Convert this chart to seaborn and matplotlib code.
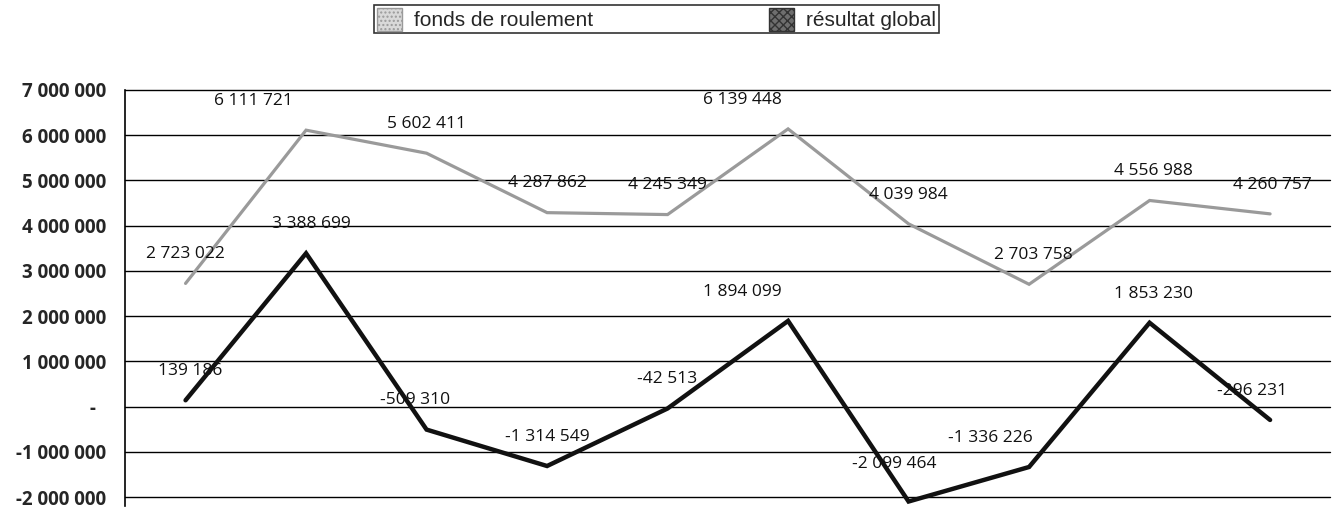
import matplotlib
matplotlib.use("Agg")
import matplotlib.pyplot as plt
from matplotlib.patches import Patch
from matplotlib.ticker import FuncFormatter, MultipleLocator
import numpy as np
import pandas as pd
import seaborn as sns

# Data
periods = list(range(10))
fonds_de_roulement = [2723022, 6111721, 5602411, 4287862, 4245349,
                      6139448, 4039984, 2703758, 4556988, 4260757]
resultat_global = [139186, 3388699, -509310, -1314549, -42513,
                   1894099, -2099464, -1336226, 1853230, -296231]
series_names = ["fonds de roulement", "résultat global"]

# Label horizontal nudges (in points)
fonds_dx = [0, -38, 0, 0, 0, -33, 0, 3, 3, 2]
result_dx = [3, 4, -8, 0, 0, -33, -10, -28, 3, -13]
result_dy = [21, 21, 21, 21, 21, 21, 27, 21, 21, 21]

df = pd.DataFrame({
    "period": periods * 2,
    "value": fonds_de_roulement + resultat_global,
    "serie": [series_names[0]] * 10 + [series_names[1]] * 10,
})

sns.set_style("white")
plt.rcParams["font.family"] = ["DejaVu Sans"]

fig = plt.figure(figsize=(13.33, 5.07), dpi=100)
ax = fig.add_axes([0.094, 0.0197, 0.904, 0.8028])

sns.lineplot(data=df, x="period", y="value", hue="serie",
             palette={series_names[0]: "#9a9a9a", series_names[1]: "#111111"},
             ax=ax, legend=False, estimator=None, sort=False)
lines = ax.get_lines()
lines[0].set_linewidth(2.3)
lines[1].set_linewidth(3.2)
for ln in lines:
    ln.set_solid_joinstyle("miter")
    ln.set_clip_on(False)

ax.set_xlim(-0.5, 9.5)
ax.set_ylim(-2000000, 7000000)
ax.yaxis.set_major_locator(MultipleLocator(1000000))


def fmt(v, pos):
    v = int(round(v))
    if v == 0:
        return "-  "
    s = f"{abs(v):,}".replace(",", " ")
    return ("-" if v < 0 else "") + s


ax.yaxis.set_major_formatter(FuncFormatter(fmt))
ax.set_xticks([])
ax.set_xlabel("")
ax.set_ylabel("")
ax.grid(axis="y", color="black", linewidth=1.0)
ax.set_axisbelow(True)
for gl in ax.get_ygridlines():
    gl.set_clip_on(False)
for side in ["top", "right", "bottom"]:
    ax.spines[side].set_visible(False)
ax.spines["left"].set_color("black")
ax.spines["left"].set_linewidth(1.2)
ax.spines["left"].set_bounds(-2200000, 7000000)
ax.tick_params(axis="y", which="major", direction="out", length=5, width=1,
               color="black", pad=9)
for lbl in ax.get_yticklabels():
    lbl.set_fontweight("bold")
    lbl.set_fontsize(13.5)
    lbl.set_fontfamily("Open Sans")


def spaced(v):
    return ("-" if v < 0 else "") + f"{abs(v):,}".replace(",", " ")


for x, v, dx in zip(periods, fonds_de_roulement, fonds_dx):
    ax.annotate(spaced(v), (x, v), xytext=(dx, 21), textcoords="offset points",
                ha="center", va="center", fontsize=12.5, family="Open Sans",
                color="#111111", annotation_clip=False)
for x, v, dx, dy in zip(periods, resultat_global, result_dx, result_dy):
    ax.annotate(spaced(v), (x, v), xytext=(dx, dy), textcoords="offset points",
                ha="center", va="center", fontsize=12.5, family="Open Sans",
                color="#111111", annotation_clip=False)

handles = [
    Patch(facecolor="#d9d9d9", edgecolor="#9a9a9a", hatch="....", label=series_names[0]),
    Patch(facecolor="#6e6e6e", edgecolor="#333333", hatch="xxxx", label=series_names[1]),
]
leg = fig.legend(handles=handles, loc="upper center", bbox_to_anchor=(0.4925, 1.01),
                 ncol=2, frameon=True, fancybox=False, edgecolor="black",
                 handlelength=1.2, handleheight=1.3, handletextpad=0.6,
                 columnspacing=8.4, borderpad=0.12,
                 prop={"family": "Liberation Sans", "size": 15})
leg.get_frame().set_linewidth(1.2)

fig.savefig("out.png", dpi=100)
